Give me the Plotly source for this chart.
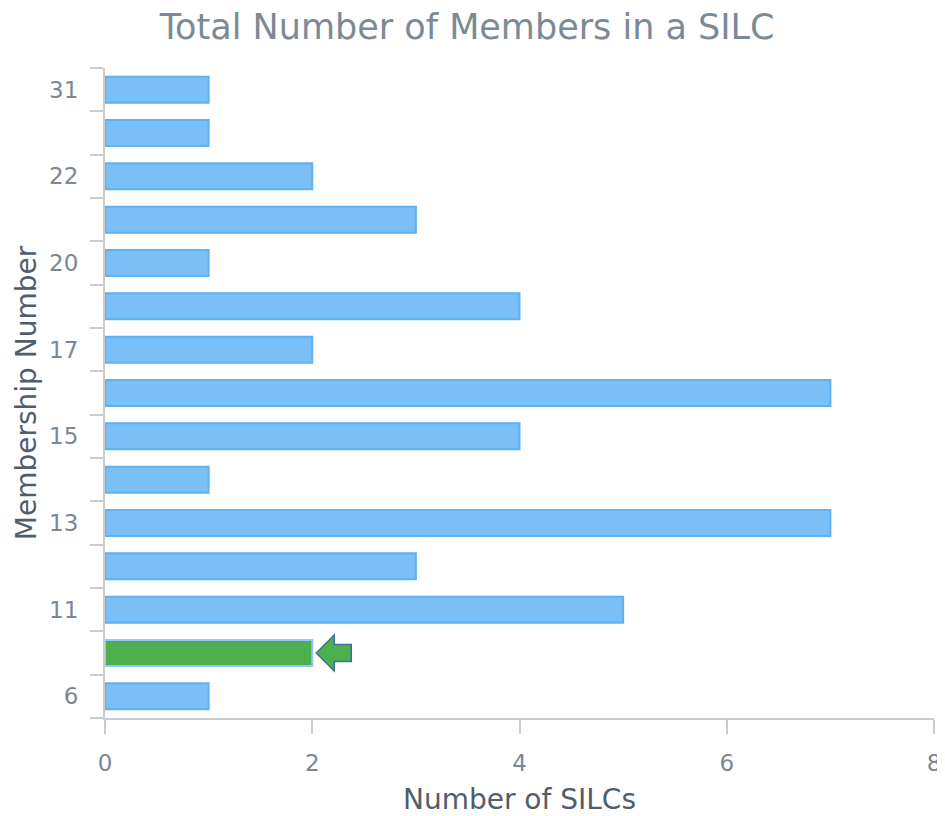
import plotly.graph_objects as go

# Data (bottom to top)
membership = ["6", "10", "11", "12", "13", "14", "15", "16", "17", "19", "20", "21", "22", "25", "31"]
silc_counts = [1, 2, 5, 3, 7, 1, 4, 7, 2, 4, 1, 3, 2, 1, 1]
highlight = "10"
shown_labels = ["6", "11", "13", "15", "17", "20", "22", "31"]

idx = list(range(len(membership)))
fill_colors = ["#4caf50" if m == highlight else "#7abff5" for m in membership]
line_colors = ["#8fc8f7" if m == highlight else "#5fb1f1" for m in membership]

fig = go.Figure()
fig.add_trace(go.Bar(
    x=silc_counts, y=idx, orientation="h",
    marker=dict(color=fill_colors, line=dict(color=line_colors, width=2)),
    width=0.6, hoverinfo="x+y",
))

hi = membership.index(highlight)
fig.add_shape(
    type="path", xref="x", yref="y",
    xsizemode="pixel", ysizemode="pixel",
    xanchor=silc_counts[hi], yanchor=hi,
    path="M 4,0 L 22,18 L 22,8.5 L 39,8.5 L 39,-8.5 L 22,-8.5 L 22,-18 Z",
    fillcolor="#4caf50", line=dict(color="#3f6f96", width=1.5),
)

# page body has an 8px margin: size the figure to fit the window
fig.update_layout(
    width=937, height=808,
    margin=dict(l=97, r=11, t=60, b=98),
    paper_bgcolor="white", plot_bgcolor="white",
    font=dict(family="DejaVu Sans", color="#7b8794"),
    title=dict(text="Total Number of Members in a SILC", x=0.49, xanchor="center",
               y=(808 - 19) / 808, yanchor="middle",
               font=dict(size=35, color="#7d8a96", family="DejaVu Sans")),
    showlegend=False,
    bargap=0.4,
)
fig.update_xaxes(
    range=[0, 8], dtick=2, tick0=0,
    showgrid=False, zeroline=False, automargin=False,
    showline=True, linecolor="#cccccc", linewidth=2,
    ticks="outside", ticklen=14, tickwidth=2, tickcolor="#cccccc",
    tickfont=dict(size=23, color="#7b8794"),
    ticklabelstandoff=9,
    title=dict(text="Number of SILCs", font=dict(size=28, color="#525d69"), standoff=18),
)
fig.update_yaxes(
    range=[-0.5, len(membership) - 0.5],
    tickmode="array",
    tickvals=[membership.index(s) for s in shown_labels],
    ticktext=shown_labels,
    ticks="", showgrid=False, zeroline=False, automargin=False,
    showline=True, linecolor="#cccccc", linewidth=2,
    tickfont=dict(size=23, color="#7b8794"),
    ticklabelstandoff=20,
    minor=dict(tickmode="linear", tick0=-0.5, dtick=1, ticks="outside",
               ticklen=13, tickwidth=2, tickcolor="#cccccc", showgrid=False),
    title=dict(text="Membership Number", font=dict(size=28, color="#525d69"), standoff=4),
)

fig.write_html("out.html")
